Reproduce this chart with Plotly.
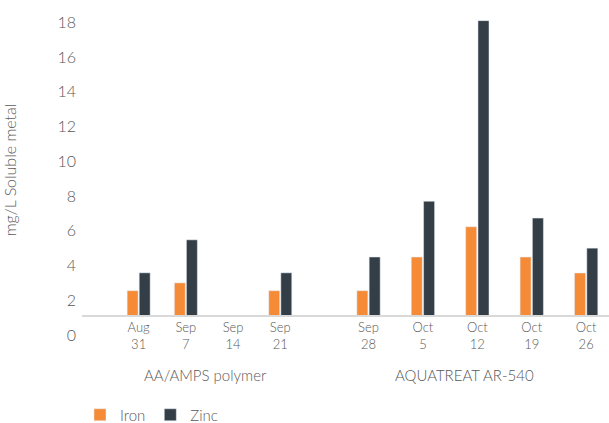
import plotly.graph_objects as go

# values (mg/L soluble metal)
group1_name = "AA/AMPS polymer"
group1_dates = ["Aug<br>31", "Sep<br>7", "Sep<br>14", "Sep<br>21"]
group1_iron = [2.55, 3.0, None, 2.55]
group1_zinc = [3.58, 5.48, None, 3.58]

group2_name = "AQUATREAT AR-540"
group2_dates = ["Sep<br>28", "Oct<br>5", "Oct<br>12", "Oct<br>19", "Oct<br>26"]
group2_iron = [2.55, 4.49, 6.23, 4.49, 3.57]
group2_zinc = [4.49, 7.7, 18.1, 6.73, 5.0]

y_ticks = [0, 2, 4, 6, 8, 10, 12, 14, 16, 18]
axis_cross = 1.1   # horizontal axis crosses the value axis here

IRON = "#F58B37"
ZINC = "#343E46"
GREY = "#595959"
FONT = "Lato"
Y_MAX = 19

def above_axis(vals):
    return [None if v is None else v - axis_cross for v in vals]

def f(size):
    return dict(family=FONT, size=size, color=GREY, weight=300)

fig = go.Figure()

# left block (polymer) -> x, right block (AQUATREAT) -> x2
w1 = 11 / 47.5
w2 = 11 / 54.4
for xa, cats, iron, zinc, w, show in [("x", group1_dates, group1_iron, group1_zinc, w1, True),
                                      ("x2", group2_dates, group2_iron, group2_zinc, w2, False)]:
    fig.add_trace(go.Bar(x=cats, y=above_axis(iron), base=axis_cross, name="Iron",
                         marker_color=IRON, width=w, offset=-w - 0.012, xaxis=xa, yaxis="y",
                         legendgroup="iron", showlegend=show))
    fig.add_trace(go.Bar(x=cats, y=above_axis(zinc), base=axis_cross, name="Zinc",
                         marker_color=ZINC, width=w, offset=0.012, xaxis=xa, yaxis="y",
                         legendgroup="zinc", showlegend=show))

split = (322 - 82) / 527
cross_pos = axis_cross / Y_MAX

xcommon = dict(type="category", showgrid=False, zeroline=False, showline=True,
               linecolor="#D9D9D9", linewidth=1.5, ticks="", anchor="free",
               position=cross_pos, tickfont=f(13))

fig.update_layout(
    width=609, height=423,
    margin=dict(l=82, r=0, t=5, b=88),
    plot_bgcolor="white", paper_bgcolor="white",
    barmode="overlay",
    font=f(14),
    xaxis=dict(domain=[0, split], range=[-1.2, 3.884], **xcommon),
    xaxis2=dict(domain=[split, 1], range=[-0.855, 4.42], **xcommon),
    yaxis=dict(range=[0, Y_MAX], tickvals=y_ticks, showgrid=False, zeroline=False,
               showline=False, ticks="", ticklabelstandoff=5, tickfont=f(16),
               title=dict(text="mg/L Soluble metal", standoff=36, font=f(16))),
    legend=dict(orientation="h", x=80 / 609, xanchor="left", y=1 - 415 / 423, yanchor="middle",
                xref="container", yref="container", font=f(15), traceorder="normal"),
    annotations=[
        dict(text=group1_name, xref="paper", yref="paper", x=(205 - 82) / 527, y=-0.155,
             xanchor="center", showarrow=False, font=f(15)),
        dict(text=group2_name, xref="paper", yref="paper", x=(464 - 82) / 527, y=-0.155,
             xanchor="center", showarrow=False, font=f(15)),
    ],
)

fig.write_html("out.html", config={"displayModeBar": False},
               post_script="document.body.style.margin='0';")
